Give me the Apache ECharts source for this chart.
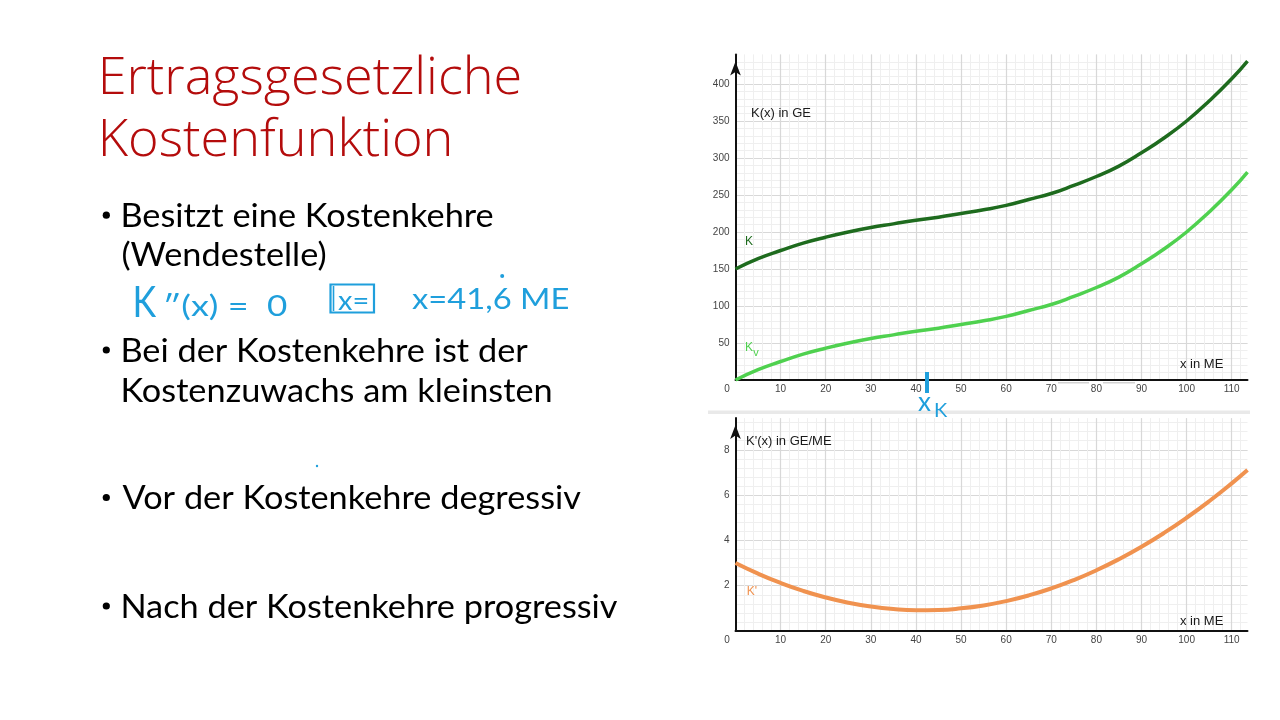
<!DOCTYPE html>
<html><head><meta charset="utf-8">
<script src="https://cdn.jsdelivr.net/npm/echarts@6/dist/echarts.min.js"></script>
<style>html,body{margin:0;padding:0;background:#fff;}#c{width:1280px;height:720px;}</style>
</head><body><div id="c"></div>
<script>
// ---- data ----
const xValues      = [0,5,10,15,20,25,30,35,40,45,50,55,60,65,70,75,80,85,90,95,100,105,110,113.5];
const costTotal    = [150,164,175,185,193,200,206,211,216,220,225,230,236,244,252,263,275,289,307,327,350,377,407,431];
const costVariable = [0,14,25,35,43,50,56,61,66,70,75,80,86,94,102,113,125,139,157,177,200,227,257,281];
const marginalCost = [3.0,2.53,2.12,1.77,1.48,1.25,1.08,0.97,0.92,0.93,1.0,1.13,1.32,1.57,1.88,2.25,2.68,3.17,3.72,4.33,5.0,5.73,6.52,7.11];
const titleLines   = ['Ertragsgesetzliche', 'Kostenfunktion'];
const bulletLines  = ['Besitzt eine Kostenkehre', '(Wendestelle)', 'Bei der Kostenkehre ist der', 'Kostenzuwachs am kleinsten', 'Vor der Kostenkehre degressiv', 'Nach der Kostenkehre progressiv'];
const X_MAX = 113.5, Y1_MAX = 440, Y2_MAX = 9.4;

// ---- text helpers (layout only) ----
const mctx = document.createElement('canvas').getContext('2d');
function metrics(str, font){
  mctx.font = font; mctx.textBaseline = 'alphabetic';
  const capA = mctx.measureText('H').actualBoundingBoxAscent;
  const m = mctx.measureText(str);
  mctx.textBaseline = 'middle';
  const midA = mctx.measureText('H').actualBoundingBoxAscent;
  return {d: capA - midA, ink: m.actualBoundingBoxLeft + m.actualBoundingBoxRight, abl: m.actualBoundingBoxLeft, adv: m.width};
}
function txt(str, font, color, left, baseline, sx, extra){
  const mt = metrics(str, font);
  sx = sx || 1;
  return Object.assign({type:'text', z:50, x: left + mt.abl*sx, y: baseline - mt.d, scaleX: sx, originX:0, originY:0,
    style:{text:str, font:font, fill:color, stroke:'none', lineWidth:0, align:'left', verticalAlign:'middle'}}, extra||{});
}
function fitScale(str, font, width){ return width / metrics(str, font).ink; }

const TITLE_FONT = '300 52px "Open Sans"';
const titleScale = fitScale(titleLines[0], TITLE_FONT, 417);
const BUL_FONT = 'normal 32.5px Lato';
const bulScale = fitScale(bulletLines[0], BUL_FONT, 370);
const HAND = '#1f9fdc';
const HFONT = 'normal 28px Lato';
const LBL = 'normal 13px "Liberation Sans"';

const bulletBaselines = [226.7, 265.5, 361.5, 401.5, 509, 617.5];
const bulletDotLines = [0, 2, 4, 5];

const graphics = [];
graphics.push(txt(titleLines[0], TITLE_FONT, '#b40c0c', 102.7, 93.5, titleScale));
graphics.push(txt(titleLines[1], TITLE_FONT, '#b40c0c', 102.7, 155.5, titleScale));
bulletLines.forEach((s,i)=>graphics.push(txt(s, BUL_FONT, '#000', 122.5, bulletBaselines[i], bulScale)));
bulletDotLines.forEach(i=>graphics.push({type:'circle', shape:{cx:106.3, cy:bulletBaselines[i]-11.5, r:3.6}, style:{fill:'#000'}}));

// handwritten notes
graphics.push(txt('K', 'normal 42px Lato', HAND, 135, 317, 0.85));
const kRest = '\u2033(x) =';
graphics.push(txt(kRest, HFONT, HAND, 165, 316, fitScale(kRest, HFONT, 82)));
graphics.push(txt('0', 'normal 28px Lato', HAND, 267, 315.5, fitScale('0', 'normal 28px Lato', 20)));
graphics.push({type:'rect', shape:{x:330.5, y:284.5, width:43.5, height:28}, style:{fill:'none', stroke:HAND, lineWidth:2.2}});
graphics.push({type:'line', shape:{x1:333.5, y1:286, x2:333.5, y2:311}, style:{stroke:HAND, lineWidth:1.6}});
graphics.push(txt('x=', 'normal 26px Lato', HAND, 338, 310, fitScale('x=', 'normal 26px Lato', 30)));
const xVal = 'x=41,6 ME';
const xValScale = fitScale(xVal, HFONT, 156);
graphics.push(txt(xVal, HFONT, HAND, 412, 309, xValScale));
// dot above the "6" (periodic decimal), placed from text metrics
(function(){
  const mt = metrics(xVal, HFONT);
  mctx.font = HFONT;
  const pre = mctx.measureText('x=41,').width, six = mctx.measureText('6').width;
  const cx = 412 + (pre + six/2 - mt.abl) * xValScale;
  graphics.push({type:'circle', shape:{cx:cx, cy:276, r:2}, style:{fill:HAND}});
})();
graphics.push({type:'circle', shape:{cx:317, cy:466, r:1.2}, style:{fill:HAND}});
graphics.push({type:'rect', z:100, shape:{x:925, y:372, width:4, height:21}, style:{fill:HAND}});
graphics.push(txt('x', 'normal 26px Lato', HAND, 918, 410.5, 1, {z:100}));
graphics.push(txt('K', 'normal 20px Lato', HAND, 935, 417, 1, {z:100}));

// separators / artefacts
graphics.push({type:'rect', shape:{x:708, y:410.5, width:542, height:3.5}, style:{fill:'#e9e9e9'}});
graphics.push({type:'rect', z:40, shape:{x:1058, y:382, width:31, height:1.5}, style:{fill:'#d2d2d2'}});
graphics.push({type:'rect', z:40, shape:{x:1103, y:382, width:32, height:1.5}, style:{fill:'#d2d2d2'}});

// chart labels
graphics.push(txt('K(x) in GE', LBL, '#1a1a1a', 752, 116.5));
graphics.push(txt('x in ME', LBL, '#1a1a1a', 1180, 367.7));
graphics.push(txt('K', 'normal 12px "Liberation Sans"', '#1e6b1e', 745, 244.5));
graphics.push(txt('K', 'normal 12px "Liberation Sans"', '#4fd14f', 745, 350.5));
graphics.push(txt('v', 'normal 11px "Liberation Sans"', '#4fd14f', 753.2, 355.5));
graphics.push(txt("K'(x) in GE/ME", LBL, '#1a1a1a', 747, 444.5));
graphics.push(txt("K'", 'normal 12px "Liberation Sans"', '#f0924f', 746.7, 595));
graphics.push(txt('x in ME', LBL, '#1a1a1a', 1180, 624.5));

// ---- axes ----
const labelStyle = {color:'#444', fontSize:10, fontFamily:'"Liberation Sans"'};
function majorX(gi){
  return {type:'value', gridIndex:gi, position:'bottom', min:0, max:X_MAX, interval:10,
    axisLine:{show:true, onZero:false, lineStyle:{color:'#111', width:2}},
    axisTick:{show:false},
    axisLabel:Object.assign({margin:4, showMaxLabel:false,
      formatter:v => v===0 ? '{z|0}' : String(v),
      rich:{z:{padding:[0,17,0,0], color:'#444', fontSize:10, fontFamily:'"Liberation Sans"'}}}, labelStyle),
    splitLine:{show:true, showMinLine:false, showMaxLine:false, lineStyle:{color:'#d8d8d8', width:1.2}}};
}
function minorX(gi){
  return {type:'value', gridIndex:gi, position:'bottom', min:0, max:X_MAX, interval:2,
    axisLine:{show:false}, axisTick:{show:false}, axisLabel:{show:false},
    splitLine:{show:true, showMinLine:false, showMaxLine:false, lineStyle:{color:'#efefef', width:1}}};
}
function majorY(gi, max, interval){
  return {type:'value', gridIndex:gi, position:'left', min:0, max:max, interval:interval,
    axisLine:{show:true, onZero:false, symbol:['none','arrow'], symbolSize:[8,14], symbolOffset:[0,-7], lineStyle:{color:'#111', width:2}},
    axisTick:{show:false},
    axisLabel:Object.assign({margin:6, showMinLabel:false, showMaxLabel:false}, labelStyle),
    splitLine:{show:true, showMinLine:false, showMaxLine:false, lineStyle:{color:'#d8d8d8', width:1.2}}};
}
function minorY(gi, max, interval){
  return {type:'value', gridIndex:gi, position:'left', min:0, max:max, interval:interval,
    axisLine:{show:false}, axisTick:{show:false}, axisLabel:{show:false},
    splitLine:{show:true, showMinLine:false, showMaxLine:false, lineStyle:{color:'#efefef', width:1}}};
}

const pairs = arr => xValues.map((x,i)=>[x, arr[i]]);

const option = {
  animation:false,
  backgroundColor:'#fff',
  grid:[
    {left:735.5, top:54.4, width:512, height:325.6},
    {left:735.5, top:418.1, width:512, height:212.9}
  ],
  xAxis:[minorX(0), majorX(0), minorX(1), majorX(1)],
  yAxis:[minorY(0, Y1_MAX, 10), majorY(0, Y1_MAX, 50), minorY(1, Y2_MAX, 0.4), majorY(1, Y2_MAX, 2)],
  series:[
    {name:'K', type:'line', xAxisIndex:1, yAxisIndex:1, data:pairs(costTotal), smooth:true, showSymbol:false, lineStyle:{color:'#1e6b1e', width:3.5}, itemStyle:{color:'#1e6b1e'}, z:3},
    {name:'Kv', type:'line', xAxisIndex:1, yAxisIndex:1, data:pairs(costVariable), smooth:true, showSymbol:false, lineStyle:{color:'#4fd14f', width:3.5}, itemStyle:{color:'#4fd14f'}, z:3},
    {name:"K'", type:'line', xAxisIndex:3, yAxisIndex:3, data:pairs(marginalCost), smooth:true, showSymbol:false, lineStyle:{color:'#f0924f', width:4}, itemStyle:{color:'#f0924f'}, z:3}
  ],
  graphic:graphics
};
const chart = echarts.init(document.getElementById('c'));
chart.setOption(option);
</script></body></html>
